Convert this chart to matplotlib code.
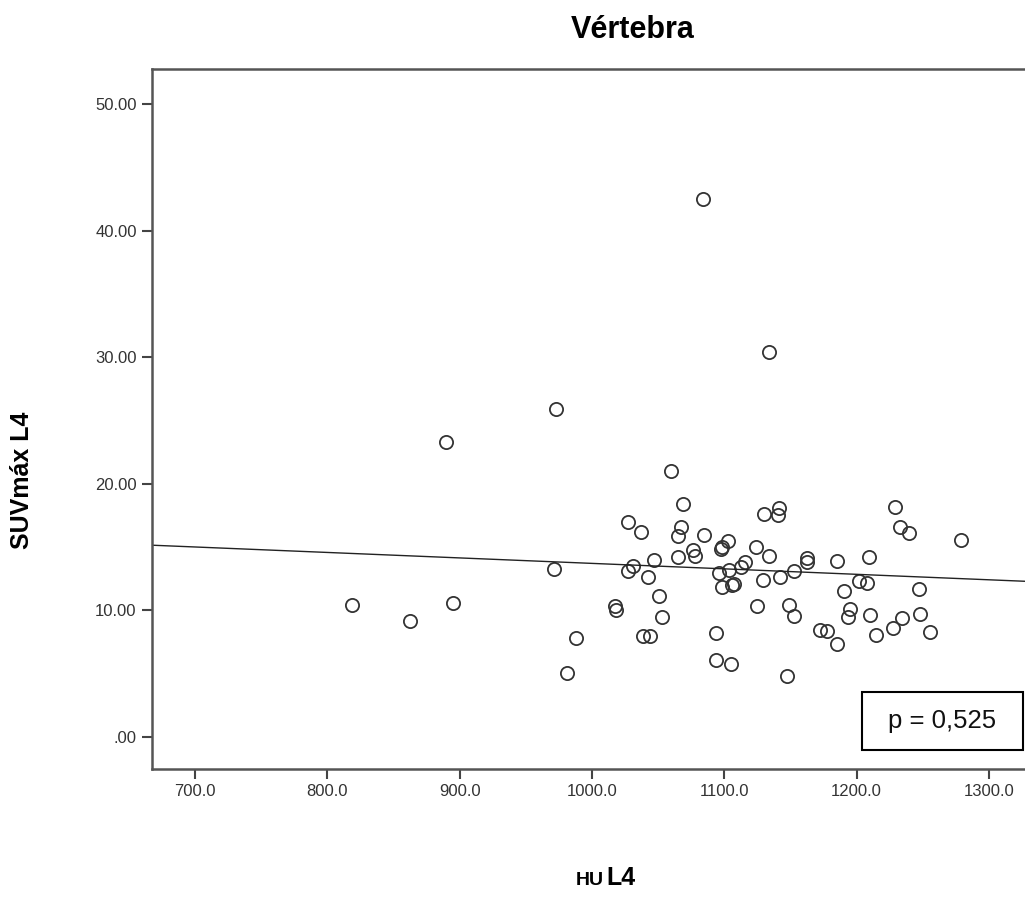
import matplotlib
matplotlib.use('Agg')
import matplotlib.pyplot as plt
from matplotlib.patches import Rectangle
import numpy as np

plt.rcParams['font.family'] = ['Liberation Sans', 'DejaVu Sans']

# HU L4 (x) and SUVmax L4 (y)
hu_l4 = [818.7, 862.3, 889.7, 895.0, 971.3, 972.6, 981.0, 987.7, 1017.5, 1018.5,
         1027.3, 1027.3, 1030.6, 1037.1, 1038.4, 1042.4, 1043.9, 1047.0, 1050.5, 1052.7,
         1059.5, 1065.3, 1065.3, 1067.3, 1068.4, 1076.2, 1078.2, 1084.0, 1084.5, 1093.8,
         1094.0, 1096.3, 1098.0, 1098.3, 1097.5, 1102.6, 1103.6, 1105.4, 1105.9, 1107.5,
         1112.4, 1115.9, 1124.0, 1124.5, 1129.3, 1130.3, 1133.4, 1133.4, 1140.7, 1141.2,
         1142.4, 1147.5, 1149.2, 1152.5, 1152.8, 1162.3, 1162.6, 1172.2, 1177.5, 1185.4,
         1185.4, 1190.3, 1193.6, 1195.3, 1201.9, 1207.7, 1209.6, 1210.4, 1214.5, 1227.1,
         1228.6, 1232.9, 1234.6, 1239.7, 1247.4, 1248.2, 1255.6, 1278.5]
suv_l4 = [10.40, 9.16, 23.28, 10.58, 13.28, 25.94, 5.05, 7.81, 10.34, 10.00,
          16.94, 13.13, 13.50, 16.20, 7.95, 12.65, 7.95, 13.99, 11.10, 9.50,
          21.00, 15.89, 14.23, 16.55, 18.44, 14.73, 14.31, 42.50, 15.94, 8.21,
          6.10, 12.97, 15.00, 11.81, 14.85, 15.49, 13.18, 5.76, 12.00, 12.10,
          13.39, 13.79, 14.97, 10.31, 12.39, 17.60, 14.29, 30.41, 17.52, 18.10,
          12.60, 4.84, 10.44, 13.13, 9.57, 13.81, 14.15, 8.45, 8.34, 13.92,
          7.34, 11.52, 9.47, 10.08, 12.31, 12.18, 14.21, 9.63, 8.07, 8.58,
          18.15, 16.60, 9.42, 16.10, 11.68, 9.68, 8.29, 15.52]

# linear fit line as drawn in the source
fit_intercept = 18.03
fit_slope = -0.00432

xticks = [700, 800, 900, 1000, 1100, 1200, 1300]
yticks = [0, 10, 20, 30, 40, 50]
p_text = 'p = 0,525'

fig = plt.figure(figsize=(10.25, 9.08), dpi=100)
ax = fig.add_axes([0.1483, 0.1531, 0.8517, 0.7709])

ax.plot(hu_l4, suv_l4, 'o', mfc='none', mec='#333333', mew=1.3, ms=9.5, ls='none')

ax.set_xlim(667.5, 1327.2)
ax.set_ylim(-2.53, 52.76)
xs = np.array(ax.get_xlim())
ax.plot(xs, fit_intercept + fit_slope * xs, color='#222222', lw=1.0)

ax.set_xticks(xticks)
ax.set_xticklabels(['%.1f' % v for v in xticks])
ax.set_yticks(yticks)
ax.set_yticklabels(['.00' if v == 0 else '%.2f' % v for v in yticks])
ax.tick_params(direction='out', length=7, width=1.5, color='#444444',
               labelsize=12, labelcolor='#333333', pad=4)

for s in ['left', 'bottom', 'top']:
    ax.spines[s].set_color('#555555')
    ax.spines[s].set_linewidth(1.8)
ax.spines['right'].set_visible(False)

# p-value box
ax.add_patch(Rectangle((0.8133, 0.0271), 0.1844, 0.0829, transform=ax.transAxes,
                       fill=False, ec='black', lw=1.5, zorder=5))
ax.text(0.9055, 0.0686, p_text, transform=ax.transAxes, ha='center', va='center',
        fontsize=18.5, color='#111111', zorder=6)

fig.text(0.617, 0.967, 'Vértebra', ha='center', va='center', fontsize=22,
         fontweight='bold')
fig.text(0.0215, 0.4714, 'SUVmáx L4', rotation=90, ha='center', va='center',
         fontsize=18, fontweight='bold')
fig.text(0.589, 0.0255, 'HU', ha='right', va='baseline', fontsize=14, fontweight='bold')
fig.text(0.592, 0.0255, 'L4', ha='left', va='baseline', fontsize=18, fontweight='bold')

fig.savefig('out.png', dpi=100)
